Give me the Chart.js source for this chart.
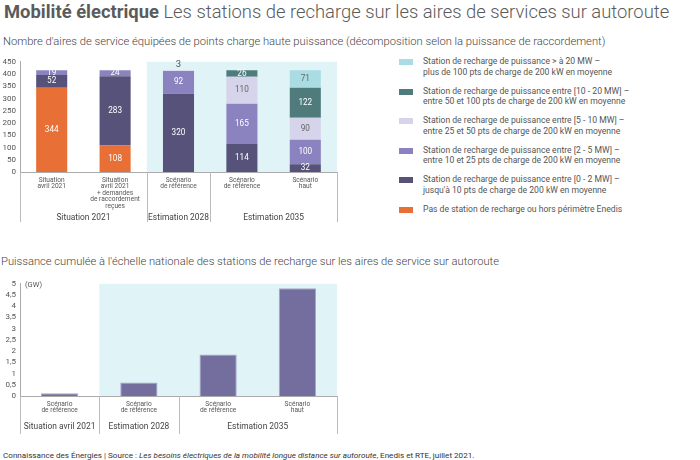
<!DOCTYPE html>
<html>
<head>
<meta charset="utf-8">
<script src="https://cdn.jsdelivr.net/npm/chart.js@4.4.1/dist/chart.umd.min.js"></script>
<style>
  body { margin: 0; width: 700px; height: 460px; background: #fff; font-family: Roboto, sans-serif; color: #555; position: relative; overflow: hidden; }
  .abs { position: absolute; white-space: nowrap; }
  #titre { left: 4px; top: 1px; font-size: 18.4px; color: #5b5b5b; font-weight: 300; }
  #titre b { font-weight: 700; }
  .sous { font-size: 11.2px; font-weight: 300; color: #444; }
  #legende { left: 399px; top: 56px; }
  .item { position: relative; height: 29.6px; }
  .carre { position: absolute; left: 0; top: 3px; width: 14px; height: 6px; }
  .txt { position: absolute; left: 24px; top: 0; font-size: 8.6px; line-height: 10.6px; color: #555; }
  #pied { left: 3px; top: 450px; font-size: 8.1px; color: #333; }
</style>
</head>
<body>
<div id="titre" class="abs"><b>Mobilité électrique</b> Les stations de recharge sur les aires de services sur autoroute</div>
<div class="abs sous" style="left:3px;top:35px">Nombre d'aires de service équipées de points charge haute puissance (décomposition selon la puissance de raccordement)</div>
<canvas id="c1" class="abs" style="left:0;top:53px" width="345" height="177"></canvas>
<div id="legende" class="abs"></div>
<div class="abs sous" style="left:1px;top:255px">Puissance cumulée à l'échelle nationale des stations de recharge sur les aires de service sur autoroute</div>
<canvas id="c2" class="abs" style="left:0;top:275px" width="345" height="162"></canvas>
<div id="pied" class="abs">Connaissance des Énergies | Source : <i>Les besoins électriques de la mobilité longue distance sur autoroute</i>, Enedis et RTE, juillet 2021.</div>

<script>
// données graphique 1
var categories1 = [
    ["Situation", "avril 2021"],
    ["Situation", "avril 2021", "+ demandes", "de raccordement", "reçues"],
    ["Scénario", "de référence"],
    ["Scénario", "de référence"],
    ["Scénario", "haut"]
];
var groupes1 = ["Situation 2021", "Estimation 2028", "Estimation 2035"];
var taillesGroupes1 = [2, 1, 2];
var horsEnedis = [344, 108, null, null, null];
var p0_2 = [52, 283, 320, 114, 32];
var p2_5 = [19, 24, 92, 165, 100];
var p5_10 = [null, null, 3, 110, 90];
var p10_20 = [null, null, null, 26, 122];
var p20 = [null, null, null, null, 71];
var ticks1 = [0, 50, 100, 150, 200, 250, 300, 350, 400, 450];

var nomsSeries = [
    ["Pas de station de recharge ou hors périmètre Enedis"],
    ["Station de recharge de puissance entre [0 - 2 MW] –", "jusqu'à 10 pts de charge de 200 kW en moyenne"],
    ["Station de recharge de puissance entre [2 - 5 MW] –", "entre 10 et 25 pts de charge de 200 kW en moyenne"],
    ["Station de recharge de puissance entre [5 - 10 MW] –", "entre 25 et 50 pts de charge de 200 kW en moyenne"],
    ["Station de recharge de puissance entre [10 - 20 MW] –", "entre 50 et 100 pts de charge de 200 kW en moyenne"],
    ["Station de recharge de puissance > à 20 MW –", "plus de 100 pts de charge de 200 kW en moyenne"]
];

// données graphique 2
var categories2 = [
    ["Scénario", "de référence"],
    ["Scénario", "de référence"],
    ["Scénario", "de référence"],
    ["Scénario", "haut"]
];
var groupes2 = ["Situation avril 2021", "Estimation 2028", "Estimation 2035"];
var taillesGroupes2 = [1, 1, 2];
var puissanceGW = [0.12, 0.6, 1.85, 4.8];
var ticks2 = [0, 0.5, 1, 1.5, 2, 2.5, 3, 3.5, 4, 4.5, 5];

var couleurs = ["#e86f36", "#56527a", "#8b83bf", "#d6d4ea", "#4f7b7c", "#a9dde3"];
var couleursTexte = ["#fff", "#fff", "#fff", "#666", "#fff", "#666"];

Chart.defaults.font.family = "Roboto";
Chart.defaults.color = "#555";

// fond bleu + séparateurs de groupes + titres de groupes
var pluginGroupes = {
    id: 'groupes',
    beforeDatasetsDraw: function(chart) {
        var o = chart.options.plugins.groupes;
        var ctx = chart.ctx, a = chart.chartArea;
        var w = (a.right - a.left) / chart.data.labels.length;
        ctx.save();
        ctx.fillStyle = "#e0f3f6";
        var debut = a.left + w * o.debutFond;
        ctx.fillRect(debut, a.top, a.right - debut, a.bottom - a.top);
        ctx.restore();
    },
    afterDraw: function(chart) {
        var o = chart.options.plugins.groupes;
        var ctx = chart.ctx, a = chart.chartArea;
        var w = (a.right - a.left) / chart.data.labels.length;
        ctx.save();
        ctx.strokeStyle = "#bbb";
        ctx.lineWidth = 1;
        ctx.fillStyle = "#444";
        ctx.font = "8.4px Roboto";
        ctx.textAlign = "center";
        ctx.textBaseline = "middle";
        var i = 0;
        var bords = [0];
        o.tailles.forEach(function(t) { i += t; bords.push(i); });
        bords.forEach(function(b) {
            var px = Math.round(a.left + w * b) + 0.5;
            ctx.beginPath();
            ctx.moveTo(px, a.bottom);
            ctx.lineTo(px, a.bottom + o.hauteur);
            ctx.stroke();
        });
        for (var k = 0; k < o.noms.length; k++) {
            var cx = a.left + w * (bords[k] + bords[k + 1]) / 2;
            ctx.fillText(o.noms[k], cx, a.bottom + o.yTitre);
        }
        if (o.unite) {
            ctx.textAlign = "left";
            ctx.font = "7.5px Roboto";
            ctx.fillStyle = "#555";
            ctx.fillText(o.unite, a.left + 5, a.top + 1);
        }
        ctx.restore();
    }
};

// étiquettes de valeurs
var pluginValeurs = {
    id: 'valeurs',
    afterDatasetsDraw: function(chart) {
        if (!chart.options.plugins.valeurs.actif) return;
        var ctx = chart.ctx;
        ctx.save();
        ctx.textAlign = "center";
        ctx.textBaseline = "middle";
        chart.data.datasets.forEach(function(ds, di) {
            chart.getDatasetMeta(di).data.forEach(function(bar, i) {
                var v = ds.data[i];
                if (v === null) return;
                var h = Math.abs(bar.base - bar.y);
                if (h < 3) {
                    ctx.fillStyle = "#555";
                    ctx.font = "9.5px Roboto";
                    ctx.fillText(v, bar.x, bar.y - 6);
                } else {
                    ctx.fillStyle = couleursTexte[di];
                    ctx.font = "8.2px Roboto";
                    ctx.fillText(v, bar.x, (bar.y + bar.base) / 2);
                }
            });
        });
        ctx.restore();
    }
};

var series1 = [horsEnedis, p0_2, p2_5, p5_10, p10_20, p20];

new Chart(document.getElementById("c1"), {
    type: "bar",
    data: {
        labels: categories1,
        datasets: series1.map(function(s, i) {
            return {
                label: nomsSeries[i].join(" "),
                data: s,
                backgroundColor: couleurs[i],
                barPercentage: 0.49,
                categoryPercentage: 1
            };
        })
    },
    options: {
        responsive: false,
        animation: false,
        layout: { padding: { left: 0, right: 8, top: 0, bottom: 0 } },
        plugins: {
            legend: { display: false },
            tooltip: { enabled: false },
            groupes: { debutFond: 2, tailles: taillesGroupes1, noms: groupes1, hauteur: 50, yTitre: 46 },
            valeurs: { actif: true }
        },
        scales: {
            x: {
                stacked: true,
                grid: { display: false, drawTicks: false },
                border: { color: "#aaa" },
                ticks: { font: { size: 6.6, lineHeight: 0.98 }, color: "#555", padding: 5, maxRotation: 0, autoSkip: false },
                afterFit: function(s) { s.height = 58; }
            },
            y: {
                stacked: true,
                min: 0, max: 450,
                afterBuildTicks: function(s) { s.ticks = ticks1.map(function(v) { return { value: v }; }); },
                grid: { display: false, drawTicks: false },
                border: { color: "#aaa" },
                ticks: { font: { size: 8 }, color: "#555", padding: 4, autoSkip: false },
                afterFit: function(s) { s.width = 20; }
            }
        }
    },
    plugins: [pluginGroupes, pluginValeurs]
});

new Chart(document.getElementById("c2"), {
    type: "bar",
    data: {
        labels: categories2,
        datasets: [{
            label: "Puissance cumulée (GW)",
            data: puissanceGW,
            backgroundColor: "#736e9d",
            borderColor: "#a9a6c9",
            borderWidth: 1,
            barPercentage: 0.47,
            categoryPercentage: 1
        }]
    },
    options: {
        responsive: false,
        animation: false,
        layout: { padding: { left: 0, right: 8, top: 0, bottom: 0 } },
        plugins: {
            legend: { display: false },
            tooltip: { enabled: false },
            groupes: { debutFond: 1, tailles: taillesGroupes2, noms: groupes2, hauteur: 38, yTitre: 31, unite: "(GW)" },
            valeurs: { actif: false }
        },
        scales: {
            x: {
                grid: { display: false, drawTicks: false },
                border: { color: "#aaa" },
                ticks: { font: { size: 6.6, lineHeight: 0.98 }, color: "#555", padding: 5, maxRotation: 0, autoSkip: false },
                afterFit: function(s) { s.height = 41; }
            },
            y: {
                min: 0, max: 5,
                afterBuildTicks: function(s) { s.ticks = ticks2.map(function(v) { return { value: v }; }); },
                grid: { display: false, drawTicks: false },
                border: { color: "#aaa" },
                ticks: {
                    font: { size: 8 }, color: "#555", padding: 4, autoSkip: false,
                    callback: function(v) { return String(v).replace(".", ","); }
                },
                afterFit: function(s) { s.width = 20; }
            }
        }
    },
    plugins: [pluginGroupes, pluginValeurs]
});

// légende html
var leg = document.getElementById("legende");
for (var i = nomsSeries.length - 1; i >= 0; i--) {
    var d = document.createElement("div");
    d.className = "item";
    d.innerHTML = '<div class="carre" style="background:' + couleurs[i] + '"></div><div class="txt">' + nomsSeries[i].join("<br>") + '</div>';
    leg.appendChild(d);
}
</script>
</body>
</html>
